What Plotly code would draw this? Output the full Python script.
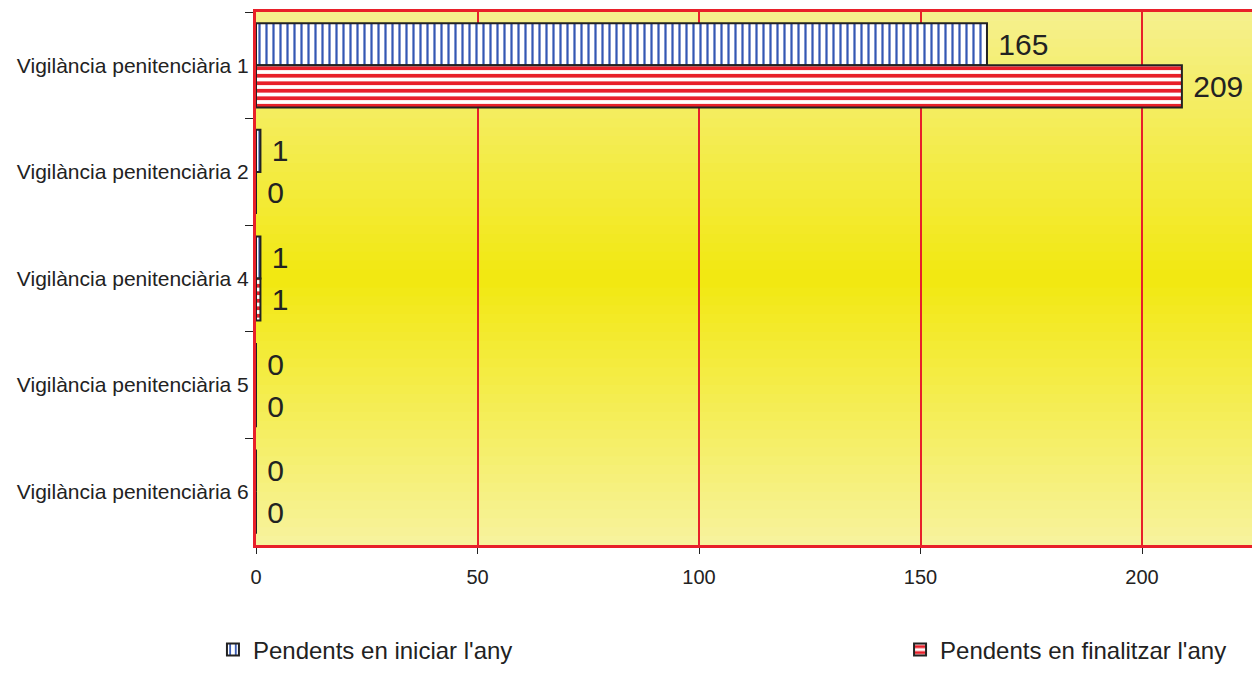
import plotly.graph_objects as go

categories = ["Vigilància penitenciària 1", "Vigilància penitenciària 2",
              "Vigilància penitenciària 4", "Vigilància penitenciària 5",
              "Vigilància penitenciària 6"]
series_names = ["Pendents en iniciar l'any", "Pendents en finalitzar l'any"]
iniciar = [165, 1, 1, 0, 0]
finalitzar = [209, 0, 1, 0, 0]
x_ticks = [0, 50, 100, 150, 200]

FONT = "Liberation Sans, Arial"

fig = go.Figure()
fig.add_trace(go.Bar(
    y=categories, x=iniciar, name=series_names[0], orientation="h",
    legend="legend",
    marker=dict(color="white", line=dict(color="#222222", width=2),
                pattern=dict(shape="|", fgcolor="#3558b4", bgcolor="white",
                             fgopacity=1, size=7, solidity=0.32)),
    text=iniciar, texttemplate="\u00a0%{x}", textposition="outside",
    textfont=dict(size=30, color="#222222", family=FONT),
    cliponaxis=False,
))
fig.add_trace(go.Bar(
    y=categories, x=finalitzar, name=series_names[1], orientation="h",
    legend="legend2",
    marker=dict(color="white", line=dict(color="#222222", width=2),
                pattern=dict(shape="-", fgcolor="#e8202a", bgcolor="white",
                             fgopacity=1, size=7.5, solidity=0.5)),
    text=finalitzar, texttemplate="\u00a0%{x}", textposition="outside",
    textfont=dict(size=30, color="#222222", family=FONT),
    cliponaxis=False,
))

# vertical gradient background (styling only)
def lerp(c1, c2, t):
    return tuple(round(a + (b - a) * t) for a, b in zip(c1, c2))

top = (245, 240, 142)
mid = (242, 232, 16)
bot = (247, 243, 158)
N = 60
shapes = []
for i in range(N):
    f = (i + 0.5) / N  # from bottom
    if f < 0.5:
        c = lerp(bot, mid, f / 0.5)
    else:
        c = lerp(mid, top, (f - 0.5) / 0.5)
    shapes.append(dict(type="rect", xref="x domain", yref="y domain",
                       x0=0, x1=1, y0=i / N, y1=(i + 1) / N + 0.002,
                       fillcolor="rgb(%d,%d,%d)" % c, line=dict(width=0),
                       layer="below"))

fig.update_layout(
    width=1252, height=666,
    margin=dict(l=248, r=5, t=4, b=129, autoexpand=False),
    paper_bgcolor="white",
    plot_bgcolor="rgb(245,240,142)",
    barmode="group",
    bargap=0.21,
    bargroupgap=0,
    shapes=shapes,
    font=dict(family=FONT, color="#222222"),
    showlegend=True,
    legend=dict(xref="container", yref="container",
                x=0.1637, y=0.036, xanchor="left", yanchor="middle",
                font=dict(size=24, color="#222222"),
                bgcolor="rgba(0,0,0,0)"),
    legend2=dict(xref="container", yref="container",
                 x=0.7125, y=0.036, xanchor="left", yanchor="middle",
                 font=dict(size=24, color="#222222"),
                 bgcolor="rgba(0,0,0,0)"),
)
fig.update_xaxes(
    range=[0, 225.5], tickvals=x_ticks, ticktext=[str(v) for v in x_ticks],
    automargin=False, tickangle=0,
    showgrid=True, gridcolor="#e8202a", gridwidth=2,
    zeroline=False,
    showline=True, linecolor="#e8202a", linewidth=3, mirror=True,
    ticks="outside", tickcolor="#222222", ticklen=6,
    ticklabelstandoff=6,
    tickfont=dict(size=20, color="#222222"),
)
fig.update_yaxes(
    autorange="reversed", categoryorder="array", categoryarray=categories,
    automargin=False,
    showgrid=False, zeroline=False,
    showline=True, linecolor="#e8202a", linewidth=3, mirror=True,
    ticks="outside", tickson="boundaries", tickcolor="#222222", ticklen=8,
    tickfont=dict(size=21, color="#222222"),
)

fig.write_html("out.html")
